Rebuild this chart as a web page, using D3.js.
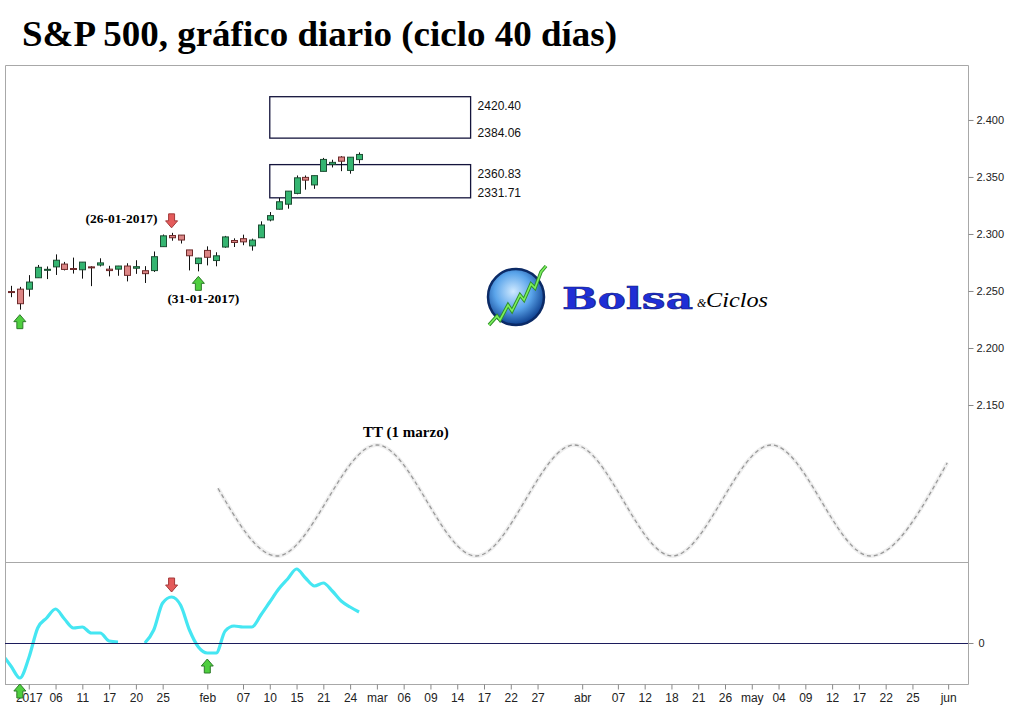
<!DOCTYPE html>
<html>
<head>
<meta charset="utf-8">
<script src="https://cdn.jsdelivr.net/npm/d3@7/dist/d3.min.js"></script>
<style>
    body { margin: 0; background: #fff; }
    svg { display: block; font-family: Arial, "Liberation Sans", sans-serif; }
</style>
</head>
<body>
<div id="chart"></div>
<script>
// daily candles (S&P 500)
const days = ['2016-12-29', '2016-12-30', '2017-01-03', '2017-01-04', '2017-01-05', '2017-01-06', '2017-01-09', '2017-01-10',
    '2017-01-11', '2017-01-12', '2017-01-13', '2017-01-17', '2017-01-18', '2017-01-19', '2017-01-20', '2017-01-23',
    '2017-01-24', '2017-01-25', '2017-01-26', '2017-01-27', '2017-01-30', '2017-01-31', '2017-02-01', '2017-02-02',
    '2017-02-03', '2017-02-06', '2017-02-07', '2017-02-08', '2017-02-09', '2017-02-10', '2017-02-13', '2017-02-14',
    '2017-02-15', '2017-02-16', '2017-02-17', '2017-02-21', '2017-02-22', '2017-02-23', '2017-02-24', '2017-02-27'];
const opens = [2249.50, 2251.61, 2251.57, 2261.60, 2268.18, 2271.14, 2273.59, 2269.72, 2268.60, 2271.14, 2272.74, 2269.14,
    2269.14, 2271.90, 2269.96, 2267.78, 2267.88, 2288.88, 2298.63, 2299.02, 2286.01, 2274.02, 2285.59, 2276.69, 2288.54,
    2294.28, 2295.87, 2289.55, 2296.70, 2312.27, 2321.72, 2326.12, 2335.58, 2349.64, 2343.01, 2354.91, 2361.11, 2367.50,
    2355.73, 2365.23];
const highs = [2254.51, 2253.58, 2263.88, 2272.82, 2271.50, 2282.10, 2275.49, 2279.27, 2275.32, 2271.78, 2278.68, 2272.08,
    2272.01, 2274.33, 2276.96, 2271.78, 2284.63, 2299.55, 2300.99, 2299.02, 2286.01, 2279.09, 2289.14, 2283.97, 2298.31,
    2296.18, 2299.40, 2295.91, 2311.08, 2319.23, 2331.58, 2337.58, 2351.30, 2351.31, 2351.16, 2366.71, 2365.13, 2368.26,
    2367.34, 2371.54];
const lows = [2244.56, 2233.62, 2245.13, 2261.60, 2260.45, 2264.06, 2268.04, 2265.27, 2260.83, 2254.25, 2271.51, 2262.81,
    2263.35, 2258.41, 2265.01, 2257.02, 2266.68, 2288.88, 2294.08, 2291.62, 2268.04, 2267.21, 2272.44, 2271.65, 2287.88,
    2288.57, 2290.16, 2285.38, 2296.61, 2311.10, 2321.42, 2322.17, 2334.81, 2338.87, 2339.58, 2354.91, 2358.34, 2355.09,
    2352.87, 2361.87];
const closes = [2249.26, 2238.83, 2257.83, 2270.75, 2269.00, 2276.98, 2268.90, 2268.90, 2275.32, 2270.44, 2274.64, 2267.89,
    2271.89, 2263.69, 2271.31, 2265.20, 2280.07, 2298.37, 2296.68, 2294.69, 2280.90, 2278.87, 2279.55, 2280.85, 2297.42,
    2292.56, 2293.08, 2294.67, 2307.87, 2316.10, 2328.25, 2337.58, 2349.25, 2347.22, 2351.16, 2365.38, 2362.82, 2363.81,
    2367.34, 2369.75];

// oscillator (lower panel)
const oscDays = ['2016-12-28'].concat(days);
const oscValues = [-11, -23, -35, -15, 15, 25, 34, 24, 15, 16, 10, 10, 2, 1, null, null, 0, 13, 40, 46, 38, 13, -4, -10,
    -10, 12, 17, 16, 16, 28, 41, 54, 64, 74, 65, 57, 60, 52, 42, 36, 31];

// projected boxes
const boxStart = ['2017-02-10', '2017-02-10'];
const boxEnd = ['2017-03-16', '2017-03-16'];
const boxTop = [2420.40, 2360.83];
const boxBottom = [2384.06, 2331.71];

// 40 day cycle turning points (session number, level 0..1)
const cyclePos = [24.2, 30.8, 42, 53.1, 64.1, 75.1, 86.2, 97.3, 105.9];
const cycleLevel = [0.61, 0, 1, 0, 1, 0, 1, 0, 0.84];

// signals
const priceSignalDays = ['2016-12-30', '2017-01-26', '2017-01-31'];
const priceSignalType = ['up', 'down', 'up'];
const oscSignalDays = ['2016-12-30', '2017-01-26', '2017-02-01'];
const oscSignalType = ['up', 'down', 'up'];

const holidays = ['2017-01-02', '2017-01-16', '2017-02-20', '2017-04-14', '2017-05-29'];

const tickDates = ['2017-01-03', '2017-01-06', '2017-01-11', '2017-01-17', '2017-01-20', '2017-01-25', '2017-02-01',
    '2017-02-07', '2017-02-10', '2017-02-15', '2017-02-21', '2017-02-24', '2017-03-01', '2017-03-06', '2017-03-09',
    '2017-03-14', '2017-03-17', '2017-03-22', '2017-03-27', '2017-04-03', '2017-04-07', '2017-04-12', '2017-04-18',
    '2017-04-21', '2017-04-26', '2017-05-01', '2017-05-04', '2017-05-09', '2017-05-12', '2017-05-17', '2017-05-22',
    '2017-05-25', '2017-06-01'];
const tickLabels = ['2017', '06', '11', '17', '20', '25', 'feb', '07', '10', '15', '21', '24', 'mar', '06', '09', '14', '17',
    '22', '27', 'abr', '07', '12', '18', '21', '26', 'may', '04', '09', '12', '17', '22', '25', 'jun'];
const priceTicks = [2150, 2200, 2250, 2300, 2350, 2400];

const fmtDay = d3.timeFormat('%Y-%m-%d');
const parseDay = d3.timeParse('%Y-%m-%d');
const esNum = d3.formatLocale({decimal: ',', thousands: '.', grouping: [3], currency: ['', '€']}).format(',.0f');

// trading sessions -> index
const sessions = d3.timeDay.range(parseDay('2016-12-28'), parseDay('2017-06-06'))
    .filter(d => d.getDay() !== 0 && d.getDay() !== 6 && !holidays.includes(fmtDay(d)));
const sessionIdx = new Map(sessions.map((d, i) => [fmtDay(d), i]));

const plotL = 5, plotR = 968, plotT = 65, splitY = 562, plotB = 684;
const serif = '"Liberation Serif", "Times New Roman", serif';

const x = d3.scaleLinear().domain([0, sessions.length - 1]).range([2, 966]);
const xd = (s) => x(sessionIdx.get(s));
const step = x(1) - x(0);
const y = d3.scaleLinear().domain([2012.3, 2448.2]).range([splitY, plotT]);
const yOsc = d3.scaleLinear().domain([-41, 81]).range([plotB, splitY]);
const yCycle = d3.scaleLinear().domain([0, 1]).range([556, 445]);

const svg = d3.select('#chart').append('svg')
    .attr('width', 1024)
    .attr('height', 707);

svg.append('rect').attr('width', 1024).attr('height', 707).attr('fill', '#fff');

// title
svg.append('text')
    .attr('x', 22).attr('y', 46)
    .attr('font-family', serif)
    .attr('font-weight', 'bold')
    .attr('font-size', 36)
    .attr('textLength', 595)
    .attr('lengthAdjust', 'spacingAndGlyphs')
    .attr('fill', '#000')
    .text('S&P 500, gráfico diario (ciclo 40 días)');

// frame
const frame = svg.append('g').attr('stroke', '#a8a8a8').attr('fill', 'none');
frame.append('path').attr('d', `M${plotL + 0.5},${plotB}V${plotT + 0.5}H${plotR + 0.5}V${plotB + 0.5}H${plotL}`);
frame.append('line').attr('x1', plotL).attr('x2', plotR).attr('y1', splitY + 0.5).attr('y2', splitY + 0.5);

svg.append('clipPath').attr('id', 'plot')
    .append('rect').attr('x', plotL + 1).attr('y', plotT).attr('width', plotR - plotL - 1).attr('height', plotB - plotT);

// cycle projection
const cycleLine = d3.line()
    .x(d => x(d[0]))
    .y(d => yCycle(d[1]))
    .curve(d3.curveMonotoneX);
const cyclePts = cyclePos.map((p, i) => [p, cycleLevel[i]]);
svg.append('path')
    .attr('d', cycleLine(cyclePts))
    .attr('fill', 'none')
    .attr('stroke', '#efefef')
    .attr('stroke-width', 4);
svg.append('path')
    .attr('d', cycleLine(cyclePts))
    .attr('fill', 'none')
    .attr('stroke', '#999')
    .attr('stroke-width', 1.3)
    .attr('stroke-dasharray', '4,3');

svg.append('text')
    .attr('x', x(42) + 29).attr('y', 437)
    .attr('text-anchor', 'middle')
    .attr('font-family', serif)
    .attr('font-weight', 'bold')
    .attr('font-size', 15)
    .text('TT (1 marzo)');

// boxes
boxTop.forEach((t, i) => {
    const x1 = xd(boxStart[i]), x2 = xd(boxEnd[i]) - step / 2;
    svg.append('rect')
        .attr('x', x1).attr('y', y(t))
        .attr('width', x2 - x1).attr('height', y(boxBottom[i]) - y(t))
        .attr('fill', 'none')
        .attr('stroke', '#14143c')
        .attr('stroke-width', 1.3);
    svg.append('text').attr('x', x2 + 7).attr('y', y(t) + 13)
        .attr('font-size', 12).attr('fill', '#111').text(t.toFixed(2));
    svg.append('text').attr('x', x2 + 7).attr('y', y(boxBottom[i]) - 1)
        .attr('font-size', 12).attr('fill', '#111').text(boxBottom[i].toFixed(2));
});

// candles
const candles = svg.append('g').selectAll('g')
    .data(days.map((d, i) => ({day: d, o: opens[i], h: highs[i], l: lows[i], c: closes[i]})))
    .join('g');
candles.append('line')
    .attr('x1', d => Math.round(xd(d.day)) + 0.5)
    .attr('x2', d => Math.round(xd(d.day)) + 0.5)
    .attr('y1', d => y(d.h))
    .attr('y2', d => y(d.l))
    .attr('stroke', '#111');
candles.append('rect')
    .attr('x', d => Math.round(xd(d.day)) - 2.5)
    .attr('y', d => y(Math.max(d.o, d.c)))
    .attr('width', 6)
    .attr('height', d => Math.max(1, Math.abs(y(d.o) - y(d.c))))
    .attr('fill', d => d.c >= d.o ? '#35b571' : '#dc8686')
    .attr('stroke', d => d.c >= d.o ? '#1d4e33' : '#6e2b2b')
    .attr('stroke-width', 1);

function arrowPath(cx, ty, dir) {
    // 12 wide, 14 tall block arrow; ty = top edge
    if (dir === 'up') {
        return `M${cx},${ty}L${cx + 6},${ty + 7}L${cx + 3},${ty + 7}L${cx + 3},${ty + 14}L${cx - 3},${ty + 14}` +
            `L${cx - 3},${ty + 7}L${cx - 6},${ty + 7}Z`;
    }
    return `M${cx},${ty + 14}L${cx + 6},${ty + 7}L${cx + 3},${ty + 7}L${cx + 3},${ty}L${cx - 3},${ty}` +
        `L${cx - 3},${ty + 7}L${cx - 6},${ty + 7}Z`;
}
function drawArrow(parent, cx, ty, dir) {
    return parent.append('path')
        .attr('d', arrowPath(cx, ty, dir))
        .attr('fill', dir === 'up' ? '#4fcf3f' : '#e45b5b')
        .attr('stroke', dir === 'up' ? '#2d7a2a' : '#a33a3a')
        .attr('stroke-width', 1);
}

priceSignalDays.forEach((d, i) => {
    const k = days.indexOf(d);
    if (priceSignalType[i] === 'up') drawArrow(svg, xd(d), y(lows[k]) + 5, 'up');
    else drawArrow(svg, xd(d), y(highs[k]) - 19, 'down');
});

svg.append('text')
    .attr('x', xd('2017-01-26') - 14).attr('y', y(highs[days.indexOf('2017-01-26')]) - 10)
    .attr('text-anchor', 'end')
    .attr('font-family', serif).attr('font-weight', 'bold').attr('font-size', 13.5)
    .text('(26-01-2017)');
svg.append('text')
    .attr('x', xd('2017-01-31') + 5).attr('y', y(lows[days.indexOf('2017-01-31')]) + 32)
    .attr('text-anchor', 'middle')
    .attr('font-family', serif).attr('font-weight', 'bold').attr('font-size', 13.5)
    .text('(31-01-2017)');

// logo
const defs = svg.append('defs');
const grad = defs.append('radialGradient').attr('id', 'globe').attr('cx', '45%').attr('cy', '40%').attr('r', '60%');
grad.append('stop').attr('offset', '0%').attr('stop-color', '#cfe9ff');
grad.append('stop').attr('offset', '55%').attr('stop-color', '#5aa4ea');
grad.append('stop').attr('offset', '100%').attr('stop-color', '#0d3f8f');
const logo = svg.append('g');
const zig = 'M489,325L497,316L500,320L508,305L512,311L520,295L524,300L531,284L535,288L541,272L546,266';
logo.append('circle').attr('cx', 516).attr('cy', 297).attr('r', 28)
    .attr('fill', 'url(#globe)').attr('stroke', '#0b2a66').attr('stroke-width', 2.5);
logo.append('path').attr('d', zig)
    .attr('fill', 'none').attr('stroke', '#2f8f2a').attr('stroke-width', 3.5);
logo.append('path').attr('d', zig)
    .attr('fill', 'none').attr('stroke', '#7cf05c').attr('stroke-width', 1.6);
logo.append('text').attr('x', 562).attr('y', 309)
    .attr('font-family', '"DejaVu Serif", serif').attr('font-weight', 'bold').attr('font-size', 29)
    .attr('textLength', 131).attr('lengthAdjust', 'spacingAndGlyphs')
    .attr('fill', '#1f2fd6').attr('stroke', '#0d1a80').attr('stroke-width', 0.6)
    .text('Bolsa');
logo.append('text').attr('x', 697).attr('y', 307)
    .attr('font-family', serif).attr('font-size', 12).attr('font-style', 'italic').text('&');
logo.append('text').attr('x', 706).attr('y', 307)
    .attr('font-family', serif).attr('font-size', 22).attr('font-style', 'italic')
    .attr('textLength', 62).attr('lengthAdjust', 'spacingAndGlyphs').text('Ciclos');

// oscillator
const oscLine = d3.line()
    .defined(d => d[1] !== null)
    .x(d => xd(d[0]))
    .y(d => yOsc(d[1]))
    .curve(d3.curveMonotoneX);
svg.append('path')
    .attr('clip-path', 'url(#plot)')
    .attr('d', oscLine(oscDays.map((d, i) => [d, oscValues[i]])))
    .attr('fill', 'none')
    .attr('stroke', '#45e6f2')
    .attr('stroke-width', 3.2)
    .attr('stroke-linejoin', 'round');
svg.append('line')
    .attr('x1', plotL).attr('x2', plotR)
    .attr('y1', Math.round(yOsc(0)) + 0.5).attr('y2', Math.round(yOsc(0)) + 0.5)
    .attr('stroke', '#1c1c5c').attr('stroke-width', 1.2);

// right price axis
const axisFont = 'Arial, "Liberation Sans", sans-serif';
const yAxis = svg.append('g')
    .attr('transform', `translate(${plotR + 0.5},0)`)
    .call(d3.axisRight(y).tickValues(priceTicks).tickSize(5).tickPadding(3).tickFormat(esNum));
yAxis.select('.domain').remove();
yAxis.selectAll('line').attr('stroke', '#888');
yAxis.selectAll('text').attr('font-size', 11).attr('fill', '#222').attr('font-family', axisFont);

const oAxis = svg.append('g')
    .attr('transform', `translate(${plotR + 0.5},0)`)
    .call(d3.axisRight(yOsc).tickValues([0]).tickSize(5).tickPadding(5));
oAxis.select('.domain').remove();
oAxis.selectAll('line').attr('stroke', '#888');
oAxis.selectAll('text').attr('font-size', 11).attr('fill', '#222').attr('font-family', axisFont);

// bottom date axis
const xAxis = svg.append('g')
    .attr('transform', `translate(0,${plotB + 0.5})`)
    .call(d3.axisBottom(x)
        .tickValues(tickDates.map(d => sessionIdx.get(d)))
        .tickSize(5)
        .tickPadding(4)
        .tickFormat((d, i) => tickLabels[i]));
xAxis.select('.domain').remove();
xAxis.selectAll('line').attr('stroke', '#888');
xAxis.selectAll('text').attr('font-size', 12).attr('fill', '#222').attr('font-family', axisFont);

// oscillator signals drawn last (the first one sits over the year label)
const oscMarks = svg.append('g');
oscSignalDays.forEach((d, i) => {
    const v = oscValues[oscDays.indexOf(d)];
    if (oscSignalType[i] === 'up') drawArrow(oscMarks, xd(d), yOsc(v) + 6, 'up');
    else drawArrow(oscMarks, xd(d), yOsc(v) - 19, 'down');
});
</script>
</body>
</html>
